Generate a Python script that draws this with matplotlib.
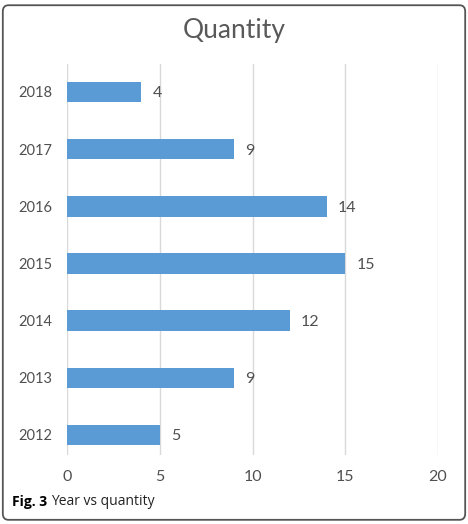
import matplotlib.pyplot as plt
from matplotlib.patches import FancyBboxPatch

years = ['2012', '2013', '2014', '2015', '2016', '2017', '2018']
quantity = [5, 9, 12, 15, 14, 9, 4]

fig = plt.figure(figsize=(4.68, 5.24), dpi=100, facecolor='white')

# Rounded frame around the whole figure
frame = FancyBboxPatch((0.006, 0.008), 0.988, 0.982,
                       boxstyle='round,pad=0,rounding_size=0.012',
                       transform=fig.transFigure, facecolor='none',
                       edgecolor='#555555', linewidth=1.3)
fig.patches.append(frame)

ax = fig.add_axes([0.1432, 0.1317, 0.7927, 0.7462])
pos = list(range(len(years)))
ax.barh(pos, quantity, height=0.36, color='#5B9BD5', zorder=3)

ax.set_xlim(0, 20)
ax.set_ylim(-0.35, 6.49)
ax.set_xticks([0, 5, 10, 15, 20])
ax.set_yticks(pos)
ax.set_yticklabels(years)
ax.grid(axis='x', color='#D9D9D9', linewidth=1, zorder=0)
ax.grid(axis='y', visible=False)
for s in ax.spines.values():
    s.set_visible(False)
ax.tick_params(axis='both', length=0, colors='#505050')
ax.tick_params(axis='x', pad=11, labelsize=11.5)
ax.tick_params(axis='y', pad=10.5, labelsize=10.5)
for lab in ax.get_xticklabels() + ax.get_yticklabels():
    lab.set_family('Lato')

# Value labels
for p, v in zip(pos, quantity):
    ax.text(v + 0.6, p, str(v), va='center_baseline', ha='left', fontsize=11.5,
            color='#505050', family='Lato')

fig.text(0.5, 0.942, 'Quantity', ha='center', va='center', fontsize=19,
         color='#595959', family='Lato')

# Caption
t = fig.text(0.026, 0.042, 'Fig. 3', ha='left', va='center', fontsize=10,
             fontweight='bold', family='Open Sans', color='black')
fig.canvas.draw()
bb = t.get_window_extent()
x1 = bb.x1 / fig.bbox.width
fig.text(x1 + 0.008, 0.042, 'Year vs quantity', ha='left', va='center',
         fontsize=10, family='Open Sans', color='#222222')

fig.savefig('out.png', dpi=100, facecolor='white')
